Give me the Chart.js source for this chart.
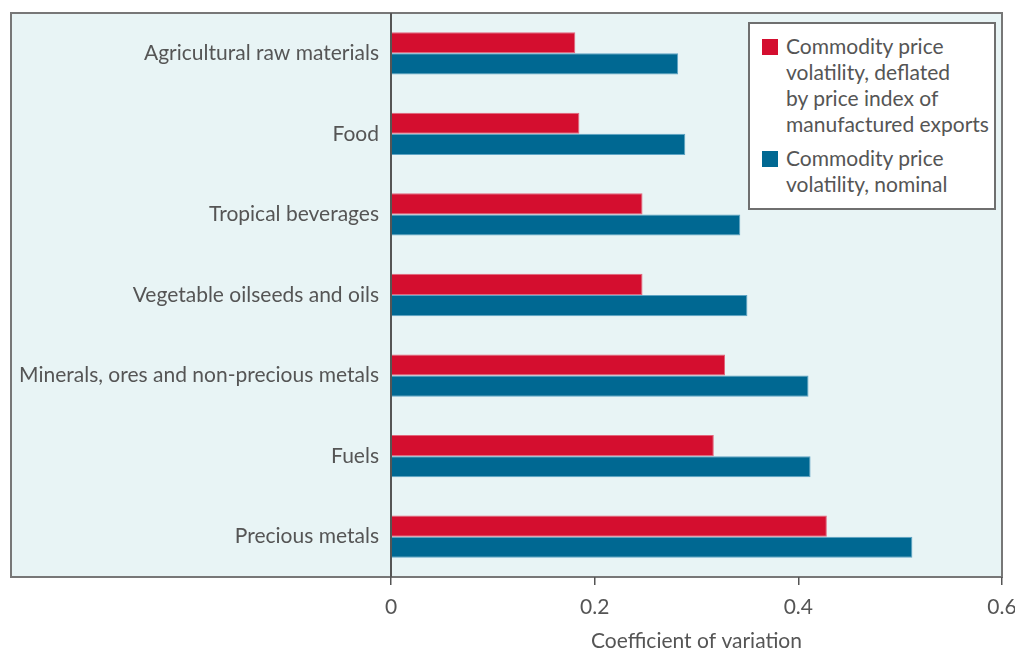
<!DOCTYPE html>
<html>
<head>
<meta charset="utf-8">
<script src="https://cdn.jsdelivr.net/npm/chart.js@4"></script>
<style>
  html, body { margin: 0; padding: 0; background: #fff; }
  #wrap { position: relative; width: 1015px; height: 652px; }
  canvas { position: absolute; left: 0; top: 0; }
  #legend { position: absolute; left: 748px; top: 22px; width: 244px; height: 184px;
    border: 2px solid #6f6f6f; background: #fff; font-family: Lato, "Open Sans", sans-serif;
    font-size: 21px; color: #555; line-height: 26px; }
  .item { position: absolute; left: 36px; white-space: nowrap; }
  .sw { position: absolute; left: -24px; top: 6px; width: 16px; height: 16px; }
</style>
</head>
<body>
<div id="wrap">
  <canvas id="c" width="1015" height="652"></canvas>
  <div id="legend">
    <div class="item" style="top:9px"><span class="sw" style="background:#d40e2f"></span>Commodity price<br>volatility, deflated<br>by price index of<br>manufactured exports</div>
    <div class="item" style="top:121px"><span class="sw" style="background:#006892"></span>Commodity price<br>volatility, nominal</div>
  </div>
</div>
<script>
const categories = ["Agricultural raw materials", "Food", "Tropical beverages", "Vegetable oilseeds and oils", "Minerals, ores and non-precious metals", "Fuels", "Precious metals"];
const deflated = [0.181, 0.185, 0.247, 0.247, 0.328, 0.317, 0.428];
const nominal = [0.282, 0.289, 0.343, 0.350, 0.410, 0.412, 0.512];
const xTicks = [0, 0.2, 0.4, 0.6];

const boxPlugin = {
  id: 'box',
  beforeDraw(chart) {
    const ctx = chart.ctx, a = chart.chartArea;
    ctx.save();
    ctx.fillStyle = '#e8f4f5';
    ctx.fillRect(10, a.top, a.right - 10, a.bottom - a.top);
    ctx.strokeStyle = '#777';
    ctx.lineWidth = 2;
    ctx.strokeRect(11, a.top, a.right - 11, a.bottom - a.top);
    ctx.restore();
  },
  afterDatasetsDraw(chart) {
    const ctx = chart.ctx, a = chart.chartArea;
    const x0 = chart.scales.x.getPixelForValue(0);
    ctx.save();
    ctx.strokeStyle = '#555';
    ctx.lineWidth = 2;
    ctx.beginPath();
    ctx.moveTo(x0, a.top);
    ctx.lineTo(x0, a.bottom);
    ctx.stroke();
    ctx.restore();
  }
};

new Chart(document.getElementById('c'), {
  type: 'bar',
  data: {
    labels: categories,
    datasets: [
      { label: 'Commodity price volatility, deflated by price index of manufactured exports', data: deflated,
        backgroundColor: '#d40e2f', borderColor: '#e2667c', borderWidth: 1 },
      { label: 'Commodity price volatility, nominal', data: nominal,
        backgroundColor: '#006892', borderColor: '#5ea4c4', borderWidth: 1 }
    ]
  },
  options: {
    indexAxis: 'y',
    responsive: false,
    animation: false,
    layout: { padding: { top: 13, right: 13, left: 10, bottom: 0 } },
    datasets: { bar: { categoryPercentage: 0.525, barPercentage: 1 } },
    plugins: { legend: { display: false }, tooltip: { enabled: false } },
    scales: {
      x: {
        min: 0, max: 0.6,
        afterBuildTicks(s) { s.ticks = xTicks.map(v => ({ value: v })); },
        afterFit(s) { s.height = 75; s.paddingLeft = 0; s.paddingRight = 0; },
        grid: { drawOnChartArea: false, drawTicks: true, tickLength: 8, color: '#555', lineWidth: 1.5 },
        border: { display: false },
        ticks: { color: '#555', padding: 10, font: { family: 'Lato', size: 21 },
          callback: v => String(v) },
        title: { display: true, text: 'Coefficient of variation', color: '#555',
          font: { family: 'Lato', size: 21, lineHeight: 1.0 }, padding: { top: 8, bottom: 0 } }
      },
      y: {
        grid: { display: false, drawTicks: false },
        border: { display: false },
        afterFit(s) { s.width = 381; s.paddingTop = 0; s.paddingBottom = 0; },
        ticks: { color: '#555', padding: 12, font: { family: 'Lato', size: 21 } }
      }
    }
  },
  plugins: [boxPlugin]
});
</script>
</body>
</html>
